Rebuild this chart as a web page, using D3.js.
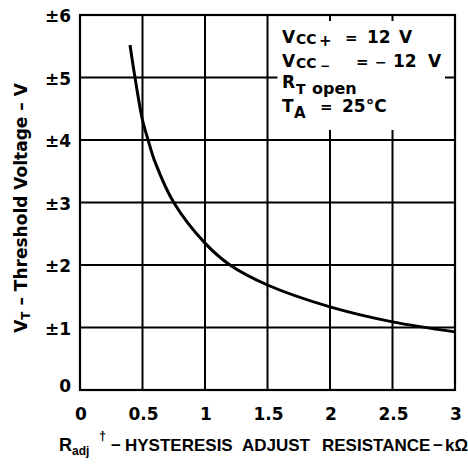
<!DOCTYPE html>
<html><head><meta charset="utf-8">
<script src="https://cdn.jsdelivr.net/npm/d3@7"></script>
<style>
body{margin:0;background:#fff;}
svg{display:block;font-family:"DejaVu Sans",sans-serif;font-weight:bold;}
.lib{font-family:"Liberation Sans",Arial,Helvetica,sans-serif;}
</style></head>
<body><svg id="c" width="468" height="464"></svg>
<script>
// Data
const resistance = [0.4, 0.44, 0.5, 0.545, 0.6, 0.75, 1.0, 1.2, 1.5, 2.0, 2.5, 3.0];
const threshold  = [5.52, 5.0, 4.32, 4.0, 3.65, 3.0, 2.35, 2.0, 1.68, 1.33, 1.09, 0.93];
const xTicks = [0, 0.5, 1, 1.5, 2, 2.5, 3];
const xTickLabels = ["0", "0.5", "1", "1.5", "2", "2.5", "3"];
const yTicks = [0, 1, 2, 3, 4, 5, 6];
const yTickLabels = ["0", "±1", "±2", "±3", "±4", "±5", "±6"];

const svg = d3.select("#c");
const x = d3.scaleLinear().domain([0, 3]).range([80, 455]);
const y = d3.scaleLinear().domain([0, 6]).range([390, 15]);

// grid
const g = svg.append("g").attr("stroke", "#000").attr("stroke-width", 2);
g.selectAll(".vx").data(xTicks).enter().append("line")
  .attr("x1", d => x(d)).attr("x2", d => x(d)).attr("y1", y(0)).attr("y2", y(6));
g.selectAll(".hy").data(yTicks).enter().append("line")
  .attr("x1", x(0)).attr("x2", x(3)).attr("y1", d => y(d)).attr("y2", d => y(d));

// legend box (blank cell keeping short gridline stubs)
const stub = 10;
svg.append("rect")
  .attr("x", x(1.5) + stub).attr("y", y(6) + 6)
  .attr("width", x(3) - x(1.5) - 2 * stub).attr("height", y(4) - y(6) - 6 - stub)
  .attr("fill", "#fff");

// frame
svg.append("rect").attr("x", x(0)).attr("y", y(6))
  .attr("width", x(3) - x(0)).attr("height", y(0) - y(6))
  .attr("fill", "none").attr("stroke", "#000").attr("stroke-width", 2.2);

// curve
const pts = resistance.map((r, i) => [r, threshold[i]]);
svg.append("path").datum(pts)
  .attr("d", d3.line().x(d => x(d[0])).y(d => y(d[1])).curve(d3.curveCatmullRom))
  .attr("fill", "none").attr("stroke", "#000").attr("stroke-width", 3);

// tick labels
svg.selectAll(".xl").data(xTicks).enter().append("text")
  .attr("x", d => x(d) + 1).attr("y", 420).attr("text-anchor", "middle")
  .attr("font-size", 17).text((d, i) => xTickLabels[i]);
svg.selectAll(".yl").data(yTicks).enter().append("text")
  .attr("x", 71).attr("y", d => y(d) + (d === 0 ? 2 : 7)).attr("text-anchor", "end")
  .attr("font-size", 17).text((d, i) => yTickLabels[i]);

// legend text
const lg = svg.append("g").attr("font-size", 17);
function legendLine(parts) {
  const t = lg.append("text");
  parts.forEach(p => {
    const ts = t.append("tspan").text(p.t).attr("x", p.x).attr("y", p.y);
    if (p.s) ts.attr("font-size", p.s);
  });
}
legendLine([{t: "V", x: 282, y: 43}, {t: "CC", x: 296, y: 44, s: 14}, {t: "+", x: 319, y: 46, s: 15},
            {t: "=", x: 345, y: 43, s: 15}, {t: "12", x: 367, y: 43}, {t: "V", x: 399, y: 43}]);
legendLine([{t: "V", x: 282, y: 67}, {t: "CC", x: 296, y: 68, s: 14}, {t: "−", x: 320, y: 70, s: 12},
            {t: "=", x: 356, y: 67, s: 15}, {t: "−", x: 375, y: 67, s: 14}, {t: "12", x: 393, y: 67},
            {t: "V", x: 428, y: 67}]);
legendLine([{t: "R", x: 282, y: 88}, {t: "T", x: 296, y: 94, s: 14}, {t: "open", x: 312, y: 94, s: 16}]);
legendLine([{t: "T", x: 282, y: 112}, {t: "A", x: 294, y: 118, s: 15}, {t: "=", x: 320, y: 112, s: 15},
            {t: "25°C", x: 342, y: 112}]);

// x-axis title
const xt = svg.append("text").attr("class", "lib").attr("font-size", 17);
xt.append("tspan").attr("x", 59).attr("y", 451).attr("font-size", 18).text("R");
xt.append("tspan").attr("x", 72).attr("y", 455).attr("font-size", 12).text("adj");
xt.append("tspan").attr("x", 99).attr("y", 440).attr("font-size", 13).text("†");
xt.append("tspan").attr("x", 111).attr("y", 451).text("−");
xt.append("tspan").attr("x", 125).attr("y", 451).text("HYSTERESIS");
xt.append("tspan").attr("x", 242).attr("y", 451).text("ADJUST");
xt.append("tspan").attr("x", 322).attr("y", 451).text("RESISTANCE");
xt.append("tspan").attr("x", 433).attr("y", 451).text("−");
xt.append("tspan").attr("x", 445).attr("y", 451).text("kΩ");

// y-axis title
const yt = svg.append("text").attr("transform", "translate(27,208) rotate(-90)")
  .attr("text-anchor", "middle").attr("font-size", 17);
yt.append("tspan").text("V");
yt.append("tspan").text("T").attr("font-size", 12).attr("dy", 3);
yt.append("tspan").text(" – Threshold Voltage – V").attr("font-size", 17).attr("dy", -3);
</script></body></html>
